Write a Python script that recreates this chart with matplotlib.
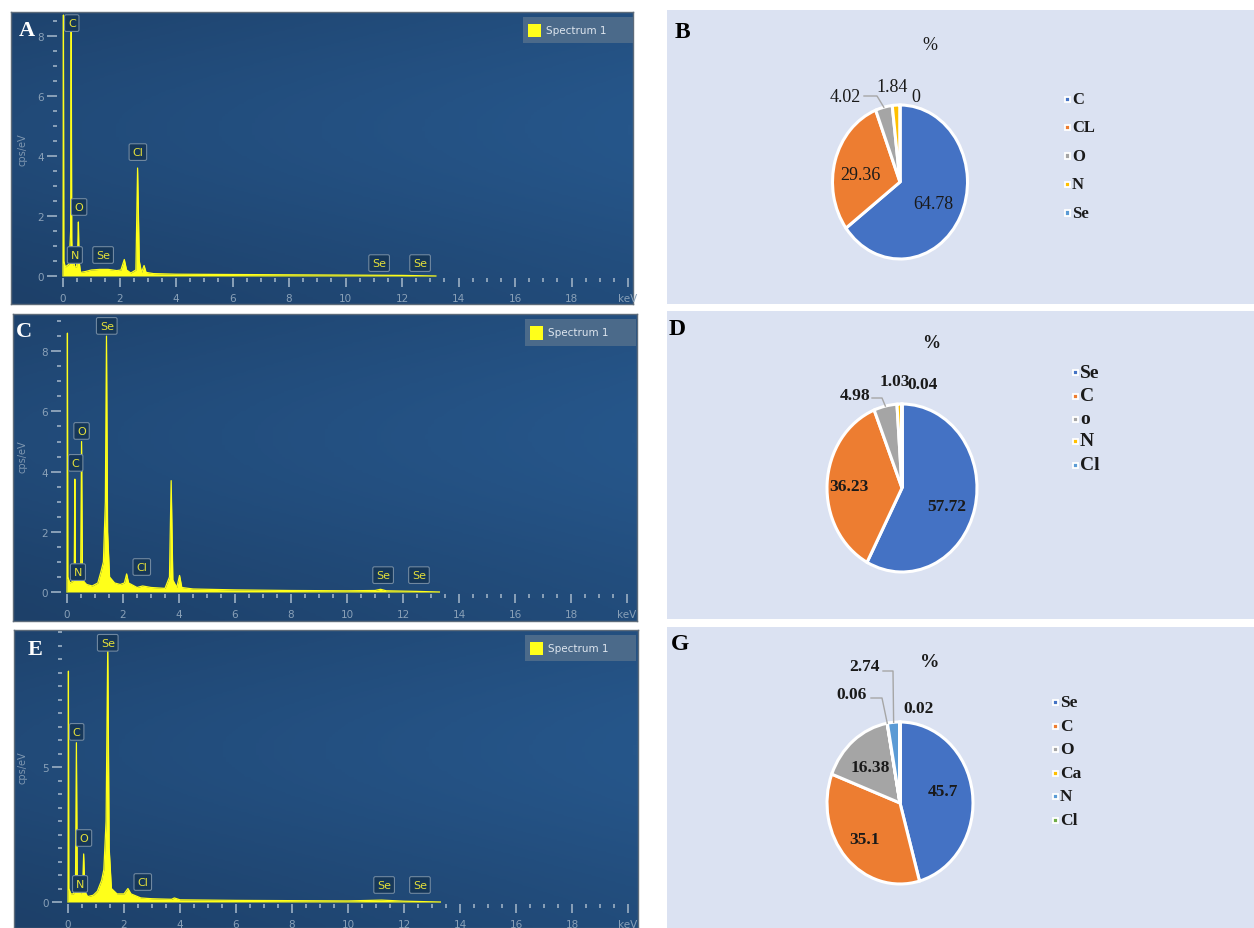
import numpy as np
import matplotlib.pyplot as plt
from matplotlib.patches import Rectangle
from matplotlib.colors import LinearSegmentedColormap

# EDS spectra (energy keV, counts cps/eV)
energy_a = [0.00, 0.015, 0.03, 0.08, 0.15, 0.22, 0.27, 0.29, 0.31, 0.34, 0.39, 0.42, 0.48,
            0.52, 0.545, 0.57, 0.62, 0.8, 1.0, 1.3, 1.6, 1.9, 2.05, 2.17, 2.25, 2.4, 2.58,
            2.64, 2.70, 2.78, 2.87, 2.94, 3.2, 4.0, 6.0, 8.0, 10.0, 12.0, 13.2]
counts_a = [0.0, 8.7, 0.5, 0.3, 0.35, 0.4, 1.5, 8.6, 1.2, 0.35, 0.45, 0.3, 0.3,
            0.9, 1.8, 0.5, 0.12, 0.15, 0.2, 0.22, 0.22, 0.18, 0.2, 0.55, 0.2, 0.1, 0.2,
            3.6, 0.5, 0.12, 0.35, 0.12, 0.08, 0.06, 0.05, 0.04, 0.03, 0.02, 0.0]

energy_c = [0.00, 0.015, 0.03, 0.1, 0.2, 0.26, 0.28, 0.30, 0.36, 0.39, 0.43, 0.49, 0.52,
            0.55, 0.6, 0.7, 0.9, 1.1, 1.22, 1.3, 1.37, 1.41, 1.45, 1.52, 1.7, 1.9, 2.05,
            2.13, 2.2, 2.5, 2.7, 3.0, 3.5, 3.66, 3.72, 3.78, 3.92, 4.02, 4.1, 4.5, 6.0,
            8.0, 10.0, 11.0, 11.2, 11.4, 12.5, 13.3]
counts_c = [0.0, 8.6, 0.5, 0.3, 0.35, 0.8, 3.75, 0.8, 0.45, 0.65, 0.4, 0.9, 5.0,
            0.8, 0.35, 0.25, 0.2, 0.3, 0.7, 1.0, 3.0, 8.5, 2.0, 0.5, 0.3, 0.25, 0.3,
            0.6, 0.3, 0.15, 0.2, 0.15, 0.12, 0.5, 3.7, 0.4, 0.15, 0.55, 0.15, 0.1, 0.07,
            0.05, 0.04, 0.05, 0.09, 0.04, 0.02, 0.0]

energy_e = [0.00, 0.015, 0.03, 0.1, 0.2, 0.27, 0.30, 0.33, 0.38, 0.42, 0.46, 0.52, 0.56,
            0.6, 0.7, 0.9, 1.05, 1.2, 1.28, 1.36, 1.42, 1.47, 1.55, 1.75, 2.0, 2.14,
            2.25, 2.6, 3.0, 3.7, 3.8, 4.0, 6.0, 8.0, 10.0, 11.2, 12.0, 13.3]
counts_e = [0.0, 8.55, 0.5, 0.3, 0.3, 1.0, 5.9, 0.8, 0.4, 0.6, 0.3, 0.5, 1.78,
            0.4, 0.2, 0.25, 0.4, 0.8, 1.2, 3.0, 9.55, 2.0, 0.5, 0.3, 0.3, 0.5,
            0.3, 0.15, 0.12, 0.1, 0.15, 0.08, 0.06, 0.05, 0.04, 0.07, 0.03, 0.0]

# element tags on the spectra (name, energy, tag height)
tags_a = ['C', 'O', 'N', 'Se', 'Cl', 'Se', 'Se']
tags_a_kev = [0.31, 0.57, 0.42, 1.42, 2.65, 11.19, 12.64]
tags_a_cps = [8.43, 2.3, 0.7, 0.7, 4.13, 0.43, 0.43]
tags_c = ['Se', 'O', 'C', 'N', 'Cl', 'Se', 'Se']
tags_c_kev = [1.42, 0.52, 0.31, 0.39, 2.67, 11.29, 12.57]
tags_c_cps = [8.84, 5.35, 4.29, 0.66, 0.83, 0.56, 0.56]
tags_e = ['Se', 'C', 'O', 'N', 'Cl', 'Se', 'Se']
tags_e_kev = [1.42, 0.31, 0.57, 0.43, 2.67, 11.29, 12.57]
tags_e_cps = [9.6, 6.3, 2.37, 0.67, 0.74, 0.63, 0.63]

# elemental composition (%)
pie_b_names = ['C', 'CL', 'O', 'N', 'Se']
pie_b_values = [64.78, 29.36, 4.02, 1.84, 0]
pie_d_names = ['Se', 'C', 'o', 'N', 'Cl']
pie_d_values = [57.72, 36.23, 4.98, 1.03, 0.04]
pie_g_names = ['Se', 'C', 'O', 'Ca', 'N', 'Cl']
pie_g_values = [45.7, 35.1, 16.38, 0.06, 2.74, 0.02]

W, H = 1254, 929
YELLOW = '#ffff1a'
TICK = '#8aa1b8'
PANEL = '#dbe2f2'
SERIF = 'Liberation Serif'
office = ['#4472c4', '#ed7d31', '#a5a5a5', '#ffc000', '#5b9bd5', '#70ad47']
eds_cmap = LinearSegmentedColormap.from_list('eds', ['#1d4069', '#26568a'])

fig = plt.figure(figsize=(W / 100, H / 100), dpi=100)
fig.patch.set_facecolor('white')


def px_axes(x0, y0, x1, y1):
    return fig.add_axes([x0 / W, 1 - y1 / H, (x1 - x0) / W, (y1 - y0) / H])


def fig_xy(px, py):
    return px / W, 1 - py / H


def spectrum_panel(box, origin, kev_px, cps_px, energy, counts, tags, tag_kev, tag_cps,
                   ystep, letter, letter_xy, legend_box, ylabel_xy):
    x0, y0, x1, y1 = box
    bg = px_axes(x0, y0, x1, y1)
    yy, xx = np.mgrid[0:1:120j, 0:1:200j]
    shade = 0.5 * xx + 0.5 * np.exp(-((yy - 0.6) ** 2) / 0.2)
    bg.imshow(shade, cmap=eds_cmap, extent=(0, 1, 0, 1), aspect='auto', origin='lower')
    bg.set_xticks([])
    bg.set_yticks([])
    for s in bg.spines.values():
        s.set_color('#5d6b7a')
        s.set_linewidth(1)

    ox, oy = origin
    ax = px_axes(ox, y0, ox + 20 * kev_px, oy)
    ax.patch.set_alpha(0)
    ax.fill_between(energy, counts, color=YELLOW, lw=0)
    ax.plot(energy, counts, color=YELLOW, lw=0.9, clip_on=False)
    ax.set_xlim(0, 20)
    ax.set_ylim(0, (oy - y0) / cps_px)

    ax.set_xticks(np.arange(0, 21, 2))
    ax.set_xticklabels([str(v) for v in range(0, 20, 2)] + ['keV'])
    ax.set_xticks(np.arange(0, 20.01, 0.5), minor=True)
    ymax = ax.get_ylim()[1]
    ax.set_yticks(np.arange(0, ymax - 0.3, ystep))
    ax.set_yticks(np.arange(0, ymax, 0.5), minor=True)
    for s in ['top', 'right']:
        ax.spines[s].set_visible(False)
    ax.spines['left'].set_position(('outward', 4.3))
    ax.spines['bottom'].set_position(('outward', 1.5))
    ax.spines['left'].set_visible(False)
    ax.spines['bottom'].set_visible(False)
    ax.tick_params(axis='both', which='both', colors=TICK, labelsize=7.5, width=1.4)
    ax.tick_params(axis='y', which='major', length=7.2, pad=2)
    ax.tick_params(axis='y', which='minor', length=2.9)
    ax.tick_params(axis='x', which='major', length=6.5, pad=4)
    ax.tick_params(axis='x', which='minor', length=2.9)

    for name, e, c in zip(tags, tag_kev, tag_cps):
        ax.text(e, c, name, ha='center', va='center', color='#e4e03a', fontsize=8,
                clip_on=False, zorder=5,
                bbox=dict(boxstyle='round,pad=0.3,rounding_size=0.15', fc='#163759',
                          ec='#7088a0', lw=0.8))

    fig.text(*fig_xy(*ylabel_xy), 'cps/eV', rotation=90, ha='center', va='center',
             color='#7f97b0', fontsize=7)
    fig.text(*fig_xy(*letter_xy), letter, color='white', family=SERIF, weight='bold',
             fontsize=16, ha='center', va='center')

    lx0, ly0, lx1, ly1 = legend_box
    leg = px_axes(lx0, ly0, lx1, ly1)
    leg.set_facecolor('#4b6a8a')
    leg.set_xticks([])
    leg.set_yticks([])
    for s in leg.spines.values():
        s.set_visible(False)
    leg.add_patch(Rectangle((0.045, 0.22), 0.12, 0.52, transform=leg.transAxes, fc=YELLOW))
    leg.text(0.21, 0.5, 'Spectrum 1', transform=leg.transAxes, va='center',
             color='#dde5ee', fontsize=7.5)


def pie_panel(box, values, names, colors, center, radii, text_xy, leaders, bold, vsize,
              title_xy, tsize, letter, letter_xy, legend_x, legend_ys, lsize):
    x0, y0, x1, y1 = box
    bg = px_axes(x0, y0, x1, y1)
    bg.set_facecolor(PANEL)
    bg.set_xticks([])
    bg.set_yticks([])
    for s in bg.spines.values():
        s.set_visible(False)

    cx, cy = center
    rx, ry = radii
    pad = 1.08
    ax = px_axes(cx - rx * pad, cy - ry * pad, cx + rx * pad, cy + ry * pad)
    wedges, _ = ax.pie(values, colors=colors, startangle=90, counterclock=False,
                       wedgeprops=dict(edgecolor='white', linewidth=2.2))
    ax.set_aspect('auto')
    ax.set_xlim(-pad, pad)
    ax.set_ylim(-pad, pad)
    ax.axis('off')

    def to_data(px, py):
        return (px - cx) / rx, (cy - py) / ry

    weight = 'bold' if bold else 'normal'
    for v, (px, py) in zip(values, text_xy):
        ax.text(*to_data(px, py), f'{v:g}', ha='center', va='center', family=SERIF,
                weight=weight, fontsize=vsize, color='#1a1a1a', clip_on=False)
    for i, pts in leaders.items():
        w = wedges[i]
        mid = np.radians((w.theta1 + w.theta2) / 2)
        xs = [to_data(*p)[0] for p in pts] + [np.cos(mid)]
        ys = [to_data(*p)[1] for p in pts] + [np.sin(mid)]
        ax.plot(xs, ys, color='#a6a6a6', lw=1, clip_on=False)

    fig.text(*fig_xy(*title_xy), '%', ha='center', va='center', family=SERIF,
             weight=weight, fontsize=tsize, color='#1a1a1a')
    fig.text(*fig_xy(*letter_xy), letter, ha='center', va='center', family=SERIF,
             weight='bold', fontsize=17, color='black')

    s = 5
    for name, color, y in zip(names, colors, legend_ys):
        fx, fy = fig_xy(legend_x - s / 2, y + s / 2)
        fig.add_artist(Rectangle((fx, fy), s / W, s / H, transform=fig.transFigure,
                                 fc=color, ec='white', lw=1.3))
        fig.text(*fig_xy(legend_x + 5, y), name, va='center', family=SERIF,
                 weight='bold', fontsize=lsize, color='#1a1a1a')


spectrum_panel((11, 13, 633, 305), (63, 277), 28.25, 30.0, energy_a, counts_a,
               tags_a, tags_a_kev, tags_a_cps, 2, 'A', (27, 31), (523, 18, 633, 44), (22, 150))
spectrum_panel((13, 315, 637, 622), (67, 593), 28.0, 30.1, energy_c, counts_c,
               tags_c, tags_c_kev, tags_c_cps, 2, 'C', (24, 332), (525, 320, 636, 347), (22, 457))
spectrum_panel((14, 631, 638, 929), (68, 903), 28.0, 27.0, energy_e, counts_e,
               tags_e, tags_e_kev, tags_e_cps, 5, 'E', (35, 650), (525, 636, 636, 662), (23, 768))

pie_panel((667, 11, 1254, 305), pie_b_values, pie_b_names, office[:5], (900, 183), (67.5, 77),
          [(933, 204), (860, 175), (845, 97), (892, 87), (916, 97)],
          {2: [(864, 97), (877, 97)]}, False, 13, (930, 45), 13, 'B', (682, 33),
          1067, [100, 128, 157, 185, 214], 12)
pie_panel((667, 312, 1254, 620), pie_d_values, pie_d_names, office[:5], (902, 489), (75, 84),
          [(947, 507), (849, 487), (855, 396), (895, 382), (923, 385)],
          {2: [(872, 399), (882, 399)]}, True, 12.5, (931, 343), 13, 'D', (677, 330),
          1075, [373, 397, 420, 442, 466], 14)
pie_panel((667, 628, 1254, 929), pie_g_values, pie_g_names, office, (900, 804), (73, 81),
          [(943, 792), (864, 840), (870, 768), (852, 695), (865, 667), (919, 709)],
          {3: [(871, 699), (882, 699)], 4: [(883, 672), (893, 672)]}, True, 12.5,
          (930, 663), 14, 'G', (680, 645), 1055, [703, 727, 750, 774, 797, 821], 12.5)

fig.savefig('out.png', dpi=100)
